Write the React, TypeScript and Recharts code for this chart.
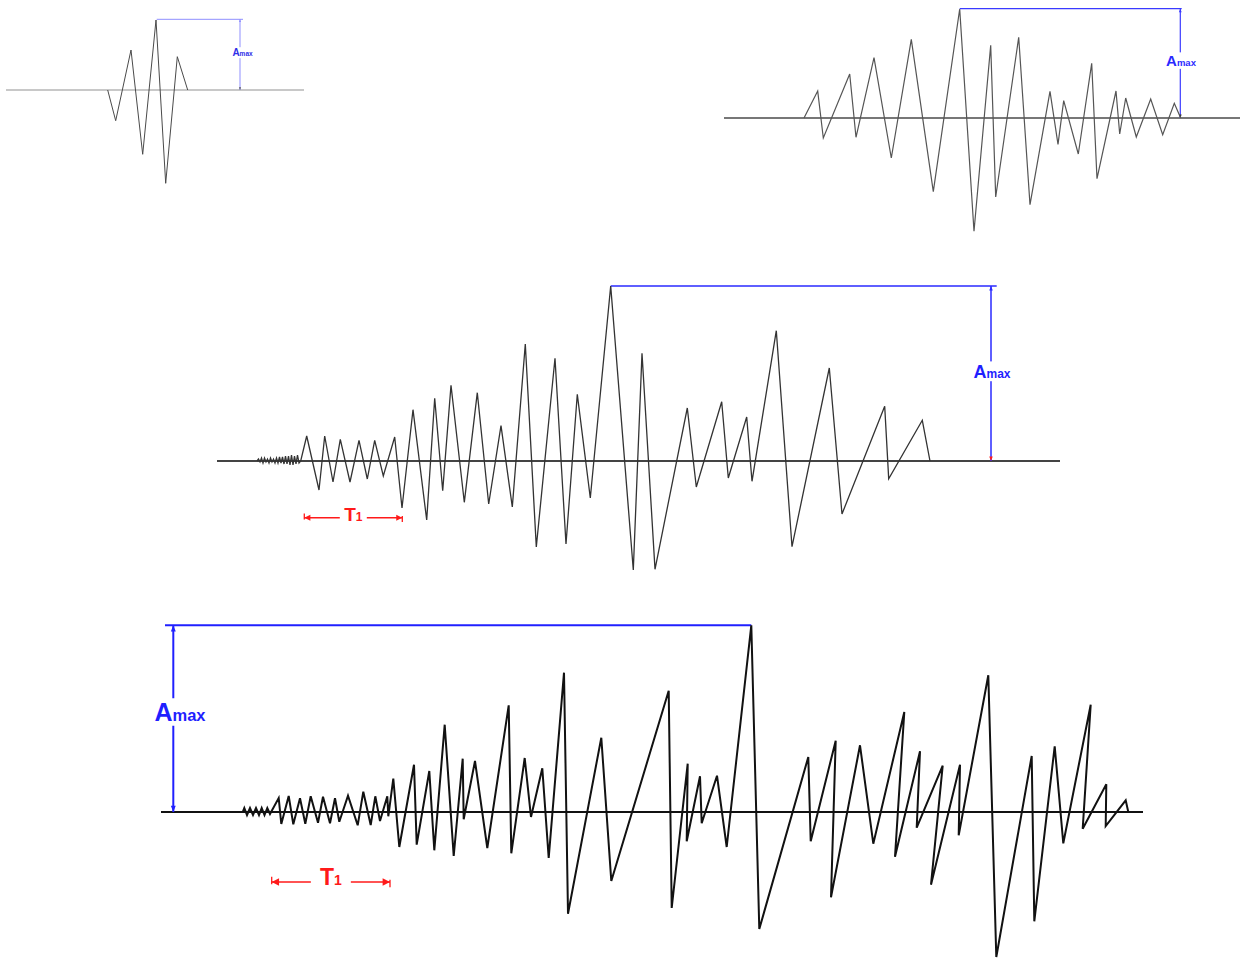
import React from 'react';
import { LineChart, Line, XAxis, YAxis, ReferenceLine, ReferenceDot } from 'recharts';

// panel 1 – short pulse (top left)
const p1Time = [101.7, 109.7, 125, 136.7, 150, 159.7, 171.3, 181.7];
const p1Amp = [0, -30.7, 40, -64.3, 70, -93.3, 33.3, 0];

// panel 2 – medium record (top right)
const p2Time = [80, 93.7, 99.3, 125.7, 132, 150, 167.3, 187.3, 209.3, 235.7, 250, 266.7, 271.7, 294.7, 306, 326, 334, 339.7, 354.3, 367.7, 373, 392, 395.7, 401.7, 412.3, 426.7, 438.7, 450.3, 456.7];
const p2Amp = [0, 27, -20, 44, -19.3, 60.3, -40, 78.7, -73.7, 109, -113.3, 72.7, -79, 80.7, -86.7, 26.7, -26.3, 17.3, -36, 54.7, -60.7, 27, -16, 20, -19, 19, -16.7, 14.7, 0];

// panel 3 – long record with T1 (middle)
const p3NoiseTime = [40, 41.5, 43, 44.5, 46, 47.5, 49, 50.5, 52, 53.5, 55, 56.5, 58, 59.5, 61, 62.5, 64, 65.5, 67, 68.5, 70, 71.5, 73, 74.5, 76, 77.5, 79, 80.5, 82];
const p3NoiseAmp = [0, 2, -1, 3, -2, 3, -1, 2, -2, 3, -1, 2, -2, 3, -2, 4, -2, 4, -3, 5, -3, 5, -4, 6, -4, 5, -3, 6, -2];
const p3Time = [83.7, 89.7, 102, 107.7, 116, 123.3, 133, 142, 150.3, 157.7, 166.3, 177.7, 185, 196, 209.7, 217.7, 225.7, 234, 247.3, 260.3, 271.7, 284, 295.3, 308.3, 319.3, 338, 349, 360.3, 373.3, 393.7, 416.3, 425, 438, 470.3, 479.3, 504.7, 511.3, 529.7, 535, 559.3, 575, 612.3, 625, 667.7, 671.7, 705.3, 713];
const p3Amp = [0, 25, -29, 25, -21, 21.7, -21, 20.7, -18, 20.7, -15, 24, -47, 51.3, -59, 62.7, -29.7, 75.7, -41.3, 68.3, -43, 35.3, -46, 117, -86, 102.7, -83, 66.7, -37, 175, -109, 107.7, -108.3, 53, -26, 59.3, -17, 44, -20.3, 130.3, -85.7, 93, -53, 54.7, -17.7, 40.7, 0];

// panel 4 – full record with T1 (bottom)
const p4NoiseTime = [81.7, 83.3, 86, 89, 92, 95, 98, 100.7, 103.5, 106.3, 109];
const p4NoiseAmp = [0, 4, -3, 4, -3, 4, -3, 4, -3, 4, -2];
const p4Time = [117.7, 120.3, 127.7, 132.3, 139, 144.3, 149.7, 157, 162, 169, 174, 178.3, 187, 196.7, 202.3, 209.7, 214.3, 219, 226.3, 227.3, 232.3, 238.3, 253, 255.7, 268.3, 273.3, 283.7, 292.7, 301.7, 302.7, 314, 326.3, 347.7, 350.3, 363.7, 370, 381.3, 387.7, 403, 407, 440.3, 450.3, 507.7, 510.7, 526.7, 525.7, 539, 540.7, 556, 565.7, 590.3, 598.3, 647.3, 649.7, 674.7, 670, 699, 712.3, 743.3, 734, 759, 755.7, 781.7, 770, 799, 797.7, 827.3, 835.3, 870.7, 873.3, 893.7, 902.3, 929.7, 921.7, 945.3, 944.7, 964.7, 967.3];
const p4Amp = [14, -12, 16, -12.3, 13.7, -11.7, 15.7, -10.7, 15.3, -11.3, 13.7, -9.7, 16.3, -13.3, 20.3, -13, 15.7, -9, 15.7, -4.3, 33.3, -35, 47.3, -32.7, 41, -38.3, 87.3, -44, 53.3, -7.3, 51, -36, 106.7, -41.3, 54, -5, 43.7, -46, 139.3, -101.7, 74.3, -69, 121.3, -96, 48.3, -29.3, 35.7, -11.3, 36.3, -35, 186.7, -117, 55, -29.3, 71.3, -85.3, 66.7, -31.7, 100, -44.7, 60.7, -15.7, 46.3, -72.7, 47.3, -23.3, 136.7, -145, 56, -109.3, 65.7, -31.3, 107.3, -16.7, 27.7, -14, 11.7, 0];

const zip = (t: number[], a: number[]) => t.map((v, i) => ({ t: v, a: a[i] }));

const FONT = '"Liberation Sans", Arial, sans-serif';
const RED = '#ff1a1a';

type Amax = {
  fromT: number; toT: number; amp: number; stemT: number;
  labelAmp: number; labelDx: number; aSize: number; mSize: number;
  color: string; lineColor: string; lineW: number; head: number; bottomColor: string;
};
type T1 = { fromT: number; toT: number; amp: number; gap: number; tSize: number; subSize: number };
type Panel = {
  left: number; top: number; width: number; height: number; padLeft: number; yDomain: [number, number];
  data: { t: number; a: number }[]; stroke: string; strokeWidth: number;
  base: string; baseW: number; amax: Amax; t1?: T1;
};

const panels: Panel[] = [
  {
    left: 6, top: 0, width: 298, height: 190, padLeft: 0, yDomain: [-100, 90],
    data: zip(p1Time, p1Amp), stroke: '#4a4a4a', strokeWidth: 1, base: '#c8c8c8', baseW: 2,
    amax: { fromT: 150.7, toT: 237, amp: 70.7, stemT: 234, labelAmp: 37.3, labelDx: 2.5, aSize: 10, mSize: 6.5,
      color: '#2f2fe8', lineColor: '#8f8fff', lineW: 1, head: 1.5, bottomColor: '#555' },
  },
  {
    left: 724, top: 0, width: 516, height: 240, padLeft: 0, yDomain: [-122, 118],
    data: zip(p2Time, p2Amp), stroke: '#555', strokeWidth: 1.2, base: '#4a4a4a', baseW: 1.5,
    amax: { fromT: 235.7, toT: 457.7, amp: 109.3, stemT: 456.3, labelAmp: 57.4, labelDx: 0.7, aSize: 15, mSize: 9.5,
      color: '#2a2aff', lineColor: '#3a3aff', lineW: 1.2, head: 2, bottomColor: '#333' },
  },
  {
    left: 217, top: 281, width: 843, height: 300, padLeft: 0, yDomain: [-120, 180],
    data: [...zip(p3NoiseTime, p3NoiseAmp), ...zip(p3Time, p3Amp)], stroke: '#333', strokeWidth: 1.3, base: '#444', baseW: 2,
    amax: { fromT: 393.7, toT: 779.7, amp: 175, stemT: 774, labelAmp: 89.7, labelDx: 1, aSize: 18, mSize: 12,
      color: '#1f1fff', lineColor: '#2a2aff', lineW: 1.5, head: 2.5, bottomColor: RED },
    t1: { fromT: 87.3, toT: 185.3, amp: -56.7, gap: 13.5, tSize: 19, subSize: 12 },
  },
  {
    left: 161, top: 612, width: 982, height: 350, padLeft: 20, yDomain: [-150, 200],
    data: [...zip(p4NoiseTime, p4NoiseAmp), ...zip(p4Time, p4Amp)], stroke: '#111', strokeWidth: 2, base: '#111', baseW: 2,
    amax: { fromT: 4, toT: 590.3, amp: 186.7, stemT: 12.3, labelAmp: 100, labelDx: 6.7, aSize: 25, mSize: 16.5,
      color: '#1f1fff', lineColor: '#2020ff', lineW: 2, head: 3.5, bottomColor: '#2020ff' },
    t1: { fromT: 110.7, toT: 229, amp: -70, gap: 20, tSize: 23, subSize: 14 },
  },
];

const stemShape = (m: Amax) => (p: any) => {
  const x = p.x1;
  const top = Math.min(p.y1, p.y2);
  const bot = Math.max(p.y1, p.y2);
  const h = m.head;
  return (
    <g>
      <line x1={x} y1={top} x2={x} y2={bot} stroke={m.lineColor} strokeWidth={m.lineW} />
      <path d={`M${x},${top} l${-h * 0.7},${h * 1.8} l${h * 1.4},0 Z`} fill={m.lineColor} />
      <path d={`M${x},${bot} l${-h * 0.7},${-h * 1.8} l${h * 1.4},0 Z`} fill={m.bottomColor} />
    </g>
  );
};

const amaxLabel = (m: Amax) => (p: any) => {
  const cx = p.cx + m.labelDx;
  const cy = p.cy;
  const w = m.aSize * 0.75 + m.mSize * 2.05 + 2;
  return (
    <g>
      <rect x={cx - w / 2} y={cy - m.aSize * 0.55} width={w} height={m.aSize * 1.1} fill="#fff" />
      <text x={cx} y={cy + m.aSize * 0.36} textAnchor="middle" fill={m.color} fontFamily={FONT} fontWeight="bold">
        <tspan fontSize={m.aSize}>A</tspan>
        <tspan fontSize={m.mSize}>max</tspan>
      </text>
    </g>
  );
};

const t1Shape = (c: T1) => (p: any) => {
  const l = Math.min(p.x1, p.x2);
  const r = Math.max(p.x1, p.x2);
  const y = p.y1;
  const mid = (l + r) / 2;
  const h = c.tSize * 0.16;
  return (
    <g>
      <line x1={l} y1={y} x2={mid - c.gap} y2={y} stroke={RED} strokeWidth={1.5} />
      <line x1={mid + c.gap} y1={y} x2={r} y2={y} stroke={RED} strokeWidth={1.5} />
      <line x1={l} y1={y - h * 1.4} x2={l} y2={y + h * 0.6} stroke={RED} strokeWidth={1.3} />
      <line x1={r} y1={y - h * 0.6} x2={r} y2={y + h * 1.4} stroke={RED} strokeWidth={1.3} />
      <path d={`M${l},${y} l${h * 2},${-h} l0,${h * 2} Z`} fill={RED} />
      <path d={`M${r},${y} l${-h * 2},${-h} l0,${h * 2} Z`} fill={RED} />
      <text x={mid} y={y + 3} textAnchor="middle" fill={RED} fontFamily={FONT} fontWeight="bold">
        <tspan fontSize={c.tSize}>T</tspan>
        <tspan fontSize={c.subSize}>1</tspan>
      </text>
    </g>
  );
};

const Trace: React.FC<{ panel: Panel }> = ({ panel }) => {
  const { amax, t1 } = panel;
  return (
    <div style={{ position: 'absolute', left: panel.left - panel.padLeft, top: panel.top }}>
      <LineChart
        width={panel.width + panel.padLeft}
        height={panel.height}
        data={panel.data}
        margin={{ top: 0, right: 0, bottom: 0, left: 0 }}
      >
        <XAxis type="number" dataKey="t" domain={[-panel.padLeft, panel.width]} allowDataOverflow hide />
        <YAxis type="number" domain={panel.yDomain} allowDataOverflow hide />
        <ReferenceLine
          segment={[{ x: 0, y: 0 }, { x: panel.width, y: 0 }]}
          stroke={panel.base}
          strokeWidth={panel.baseW}
        />
        <ReferenceLine
          segment={[{ x: amax.fromT, y: amax.amp }, { x: amax.toT, y: amax.amp }]}
          stroke={amax.lineColor}
          strokeWidth={amax.lineW}
        />
        <ReferenceLine
          segment={[{ x: amax.stemT, y: 0 }, { x: amax.stemT, y: amax.amp }]}
          shape={stemShape(amax)}
        />
        {t1 && (
          <ReferenceLine segment={[{ x: t1.fromT, y: t1.amp }, { x: t1.toT, y: t1.amp }]} shape={t1Shape(t1)} />
        )}
        <Line
          type="linear"
          dataKey="a"
          stroke={panel.stroke}
          strokeWidth={panel.strokeWidth}
          dot={false}
          activeDot={false}
          isAnimationActive={false}
        />
        <ReferenceDot x={amax.stemT} y={amax.labelAmp} r={0} shape={amaxLabel(amax)} />
      </LineChart>
    </div>
  );
};

export default function App() {
  return (
    <div style={{ position: 'fixed', left: 0, top: 0, width: 1241, height: 959, background: '#fff', overflow: 'hidden' }}>
      {panels.map((p, i) => (
        <Trace key={i} panel={p} />
      ))}
    </div>
  );
}
